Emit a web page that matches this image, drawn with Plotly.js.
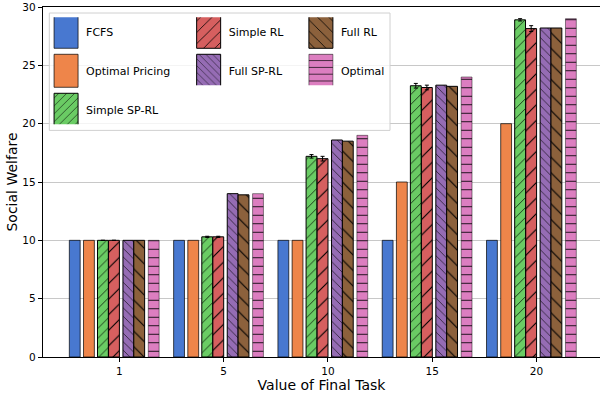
<!DOCTYPE html>
<html>
<head>
<meta charset="utf-8">
<script src="https://cdn.plot.ly/plotly-3.0.1.min.js"></script>
<style>html,body{margin:0;padding:0;background:#fff;}#chart{width:600px;height:394px;}</style>
</head>
<body>
<div id="chart"></div>
<script>
// ---- data ----
const groupLabels = ['1', '5', '10', '15', '20'];
const groupIndex = [0, 1, 2, 3, 4];
const seriesNames = ['FCFS', 'Optimal Pricing', 'Simple SP-RL', 'Simple RL', 'Full SP-RL', 'Full RL', 'Optimal'];
const fcfs       = [10, 10, 10, 10, 10];
const optPricing = [10, 10, 10, 15, 20];
const simpleSPRL = [10, 10.3, 17.2, 23.25, 28.9];
const simpleRL   = [10, 10.3, 17.0, 23.1, 28.15];
const fullSPRL   = [10, 14.0, 18.6, 23.3, 28.2];
const fullRL     = [10, 13.9, 18.5, 23.2, 28.2];
const optimal    = [10, 14.0, 19.0, 24.0, 29.0];
const simpleSPRLErr = [0, 0.05, 0.15, 0.2, 0.1];
const simpleRLErr   = [0, 0.05, 0.2, 0.2, 0.25];
const yTickVals = [0, 5, 10, 15, 20, 25, 30];

// ---- style ----
const values = [fcfs, optPricing, simpleSPRL, simpleRL, fullSPRL, fullRL, optimal];
const errors = [null, null, simpleSPRLErr, simpleRLErr, null, null, null];
const colors = ['#4878d0', '#ee854a', '#6acc64', '#d65f5f', '#956cb4', '#8c613c', '#dc7ec0'];
const edges = ['rgba(0,0,0,0.7)', 'rgba(0,0,0,0.7)', '#000', '#000', '#000', '#000', 'rgba(0,0,0,0.45)'];
const hatch = ['', '', '/', '/', '\\', '\\', '-'];
const hatchSize = [8, 8, 7, 11, 6, 11, 8.5];
const offsets = [-0.479, -0.343, -0.209, -0.103, 0.035, 0.139, 0.278];
const barW = 0.104;
const legendOf = ['legend', 'legend', 'legend', 'legend2', 'legend2', 'legend3', 'legend3'];

const traces = values.map((v, i) => {
  const t = {
    type: 'bar',
    name: seriesNames[i],
    x: groupIndex,
    y: v,
    offset: offsets[i],
    width: barW,
    legend: legendOf[i],
    legendgroup: 'g' + i,
    marker: {
      color: colors[i],
      line: {color: edges[i], width: 1},
      pattern: hatch[i] ? {shape: hatch[i], fgcolor: '#000', fgopacity: 1, size: hatchSize[i], solidity: 0.1, fillmode: 'replace', bgcolor: colors[i]} : {shape: ''}
    }
  };
  if (errors[i]) {
    t.error_y = {type: 'data', array: errors[i], visible: true, color: '#000', thickness: 1, width: 2};
  }
  return t;
});

const legFont = {family: 'DejaVu Sans', size: 11, color: '#000'};
const legBase = {bgcolor: 'rgba(0,0,0,0)', borderwidth: 0, font: legFont, xanchor: 'left', yanchor: 'top', tracegroupgap: 20, itemclick: false};

const layout = {
  width: 600, height: 394,
  margin: {l: 43, r: 0, t: 7, b: 37},
  paper_bgcolor: '#fff', plot_bgcolor: '#fff',
  barmode: 'overlay',
  font: {family: 'DejaVu Sans', color: '#000'},
  xaxis: {
    range: [-0.7315, 4.609],
    tickvals: groupIndex, ticktext: groupLabels,
    ticks: 'outside', ticklen: 4, tickcolor: '#000', tickwidth: 1,
    showline: true, linecolor: '#000', linewidth: 1.2, mirror: true,
    showgrid: false, zeroline: false,
    tickfont: {family: 'DejaVu Sans', size: 10.5},
    title: {text: 'Value of Final Task', font: {family: 'DejaVu Sans', size: 14}, standoff: 1}
  },
  yaxis: {
    range: [0, 30],
    tickvals: yTickVals,
    ticks: 'outside', ticklen: 4, tickcolor: '#000', tickwidth: 1,
    showline: true, linecolor: '#000', linewidth: 1.2, mirror: true,
    showgrid: true, gridcolor: '#c8c8c8', gridwidth: 1, zeroline: false,
    tickfont: {family: 'DejaVu Sans', size: 10.5},
    title: {text: 'Social Welfare', font: {family: 'DejaVu Sans', size: 14}, standoff: 1}
  },
  legend:  Object.assign({}, legBase, {x: 0.0055, y: 0.9706}),
  legend2: Object.assign({}, legBase, {x: 0.2615, y: 0.9706}),
  legend3: Object.assign({}, legBase, {x: 0.463, y: 0.9706}),
  shapes: [{
    type: 'rect', xref: 'paper', yref: 'paper', layer: 'above',
    x0: (49.3 - 43) / 557, x1: (390 - 43) / 557,
    y0: 1 - (130.7 - 7.3) / 350, y1: 1 - (13.3 - 7.3) / 350,
    fillcolor: 'rgba(255,255,255,0.8)', line: {color: '#d0d0d0', width: 1}
  }],
  showlegend: true
};

function bigLegendSwatches() {
  document.querySelectorAll('g.legendpoints path').forEach(p => {
    p.setAttribute('d', 'M12,16.5H-12V-16.5H12Z');
  });
}
Plotly.newPlot('chart', traces, layout, {staticPlot: true}).then(() => {
  bigLegendSwatches();
  setTimeout(bigLegendSwatches, 50);
});
</script>
</body>
</html>
